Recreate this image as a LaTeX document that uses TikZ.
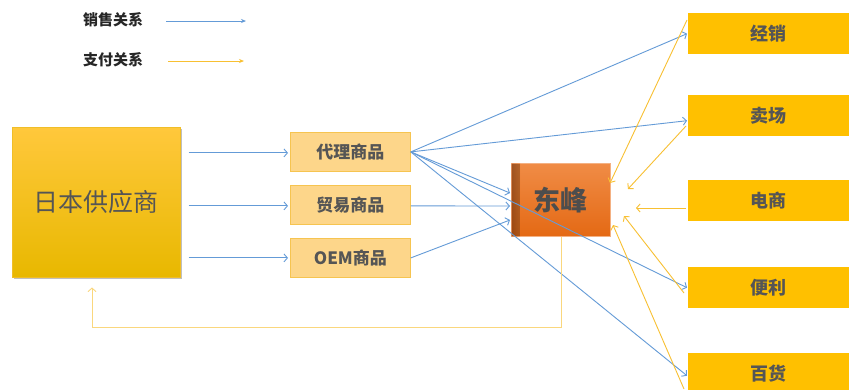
\documentclass[tikz,border=0pt]{standalone}
\usepackage{fontspec}
\newfontfamily\cjk{Noto Sans CJK SC}
\usetikzlibrary{arrows.meta,calc}
\definecolor{sale}{RGB}{100,155,215}
\definecolor{pay}{RGB}{248,192,50}
\definecolor{payl}{RGB}{250,215,125}
\definecolor{txt}{RGB}{85,85,85}
\definecolor{goods}{RGB}{253,214,138}
\definecolor{goodsb}{RGB}{246,196,80}
\definecolor{chan}{RGB}{255,192,0}
\tikzset{
  salearrow/.style={draw=sale,line width=0.9pt,-{Straight Barb[length=3.5pt,width=8pt]}},
  payarrow/.style={draw=pay,line width=0.9pt,-{Straight Barb[length=3.5pt,width=8pt]}},
  legsale/.style={draw=sale,line width=0.9pt,-{Stealth[length=5pt,width=4pt]}},
  legpay/.style={draw=pay,line width=0.9pt,-{Stealth[length=5pt,width=4pt]}},
  legtext/.style={font=\cjk\bfseries\fontsize{15}{17}\selectfont,text=black!85,inner sep=0pt},
  goodsbox/.style={anchor=north west,fill=goods,draw=goodsb,line width=0.8pt,minimum width=120pt,minimum height=39pt,inner sep=0pt,text=txt,font=\cjk\bfseries\fontsize{17}{19}\selectfont},
  chanbox/.style={anchor=north west,fill=chan,draw=none,minimum width=161pt,minimum height=41pt,inner sep=0pt,text=txt,font=\cjk\bfseries\fontsize{18}{20}\selectfont},
}
\begin{document}
\begin{tikzpicture}[x=1pt,y=-1pt]
\useasboundingbox (0,0) rectangle (849,389);
\fill[white] (0,0) rectangle (849,389);
% legend
\node[legtext,anchor=west] (l1) at (83,20) {销售关系};
\node[legtext,anchor=west] (l2) at (83,60) {支付关系};
\coordinate (l1a) at (166,21);
\coordinate (l1b) at (246,21);
\coordinate (l2a) at (168,61);
\coordinate (l2b) at (244,61);
\draw[legsale] (l1a) -- (l1b);
\draw[legpay] (l2a) -- (l2b);
% supplier
\fill[black!25] (14,129) rectangle (182,279);
\node[anchor=north west,minimum width=168pt,minimum height=150pt,inner sep=0pt,
  top color={rgb,255:red,255;green,200;blue,60},bottom color={rgb,255:red,232;green,184;blue,0},
  draw={rgb,255:red,240;green,190;blue,40},line width=0.5pt,
  text=txt,font=\cjk\fontsize{25}{27}\selectfont] (sup) at (12,127) {日本供应商};
% goods
\node[goodsbox] (dl) at (290,132) {代理商品};
\node[goodsbox] (my) at (290,185) {贸易商品};
\node[goodsbox] (oem) at (290,238) {OEM商品};
% dongfeng
\node[anchor=north west,minimum width=99pt,minimum height=73pt,inner sep=0pt,
  top color={rgb,255:red,240;green,140;blue,70},bottom color={rgb,255:red,228;green,105;blue,20},
  draw={rgb,255:red,244;green,177;blue,131},line width=0.8pt,
  text={rgb,255:red,77;green,77;blue,77},font=\cjk\bfseries\fontsize{27}{29}\selectfont] (df) at (511,163) {东峰};
\fill[left color={rgb,255:red,185;green,85;blue,25},right color={rgb,255:red,236;green,125;blue,45},opacity=0.4]
  ($(df.north west)+(0.5,0.5)$) rectangle ($(df.south west)+(9,-0.5)$);
% channels
\node[chanbox] (jx) at (688,13) {经销};
\node[chanbox] (mc) at (688,95) {卖场};
\node[chanbox] (ds) at (688,180) {电商};
\node[chanbox] (bl) at (688,267) {便利};
\node[chanbox] (bh) at (688,353) {百货};
% sales arrows supplier -> goods
\draw[salearrow] ($(sup.east |- dl.west)+(8,1)$) -- ($(dl.west)+(-2,1)$);
\draw[salearrow] ($(sup.east |- my.west)+(8,1)$) -- ($(my.west)+(-2,1)$);
\draw[salearrow] ($(sup.east |- oem.west)+(8,0)$) -- ($(oem.west)+(-2,0)$);
% sales arrows goods -> dongfeng
\coordinate (df1) at (510,193);
\coordinate (df2) at (510,206);
\coordinate (df3) at (510,220);
\draw[salearrow] (dl.east) -- (df1);
\draw[salearrow] ($(my.east)+(0,1)$) -- (df2);
\draw[salearrow] (oem.east) -- (df3);
% sales arrows goods -> channels
\draw[salearrow] (dl.east) -- ($(jx.west)+(-1,0)$);
\draw[salearrow] (dl.east) -- ($(mc.west)+(-1,5)$);
\draw[salearrow] (dl.east) -- ($(bl.west)+(-1,0)$);
\draw[salearrow] (dl.east) -- ($(bh.west)+(-1,2)$);
% payment arrows channels -> dongfeng
\coordinate (p1) at (610,183);
\coordinate (p2) at (628,189);
\coordinate (p3) at (636,208);
\coordinate (p4) at (624,216);
\coordinate (p5) at (613,225);
\draw[payarrow] ($(jx.north west)+(-1,7)$) -- (p1);
\draw[payarrow] ($(mc.north west)+(-2,31)$) -- (p2);
\draw[payarrow] ($(ds.north west)+(-2,28)$) -- (p3);
\draw[payarrow] ($(bl.north west)+(-4,26)$) -- (p4);
\draw[payarrow] ($(bh.north west)+(-4,36)$) -- (p5);
% payment dongfeng -> supplier
\coordinate (r1) at (561,327);
\coordinate (r2) at (92,327);
\draw[draw=payl,line width=0.9pt,-{Straight Barb[length=3.5pt,width=8pt]}]
  (df.south -| r1) -- (r1) -- (r2) -- ($(sup.south -| r2)+(0,10)$);
\end{tikzpicture}
\end{document}
